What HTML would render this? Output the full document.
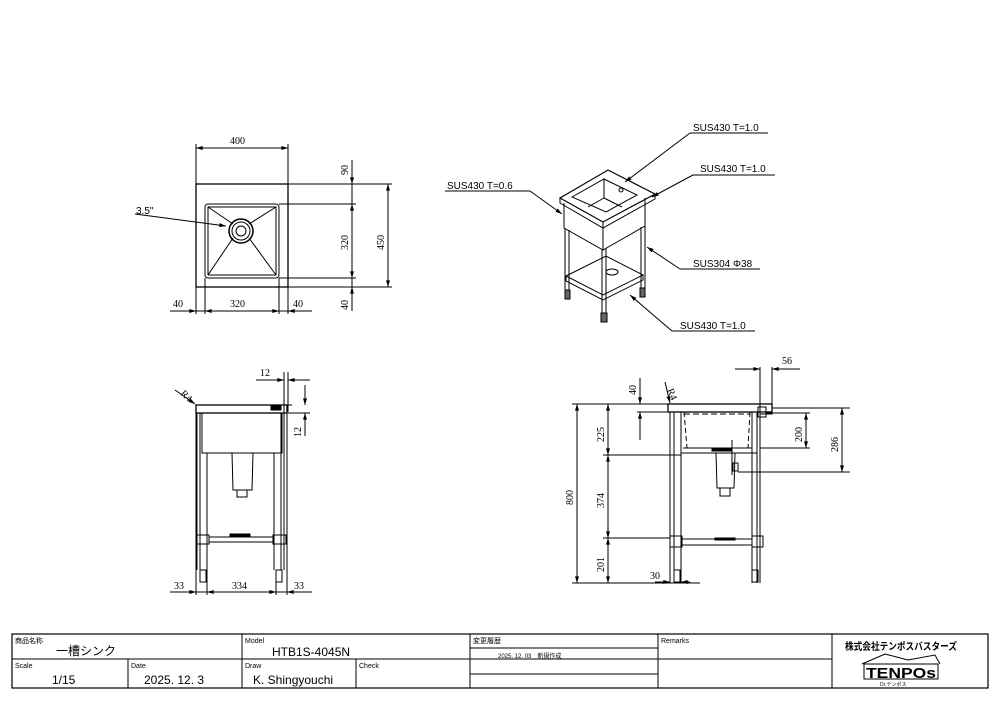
<!DOCTYPE html>
<html><head><meta charset="utf-8"><style>
html,body{margin:0;padding:0;background:#fff;}
svg{display:block;}
text{font-family:"Liberation Serif","Noto Serif CJK SC",serif;fill:#000;}
.s{font-family:"Liberation Sans","Noto Sans CJK JP",sans-serif;}
</style></head><body>
<svg width="1000" height="707" viewBox="0 0 1000 707" xmlns="http://www.w3.org/2000/svg">
<defs>
<marker id="a" viewBox="0 0 10 6" refX="10" refY="3" markerWidth="8" markerHeight="4" orient="auto-start-reverse"><path d="M0,0L10,3L0,6z" fill="#000"/></marker>
</defs>
<g stroke="#000" fill="none" stroke-width="1">
<!-- TOP VIEW -->
<rect x="196" y="184" width="92" height="103" stroke-width="1.3"/>
<rect x="205" y="204" width="74" height="74" rx="3"/>
<rect x="208" y="207" width="68" height="68"/>
<line x1="208" y1="207" x2="233" y2="224"/><line x1="276" y1="207" x2="249" y2="224"/>
<line x1="208" y1="275" x2="233" y2="238"/><line x1="276" y1="275" x2="249" y2="238"/>
<circle cx="241" cy="231" r="12" stroke-width="1.5"/><circle cx="241" cy="231" r="9"/><circle cx="241" cy="231" r="5"/>
<line x1="135" y1="214" x2="226" y2="226" marker-end="url(#a)"/>
<line x1="196" y1="144" x2="196" y2="184"/><line x1="288" y1="144" x2="288" y2="184"/>
<line x1="196" y1="148" x2="288" y2="148" marker-start="url(#a)" marker-end="url(#a)"/>
<line x1="288" y1="184" x2="392" y2="184"/><line x1="288" y1="287" x2="392" y2="287"/>
<line x1="279" y1="204" x2="356" y2="204"/><line x1="279" y1="278" x2="356" y2="278"/>
<line x1="352" y1="160" x2="352" y2="311"/>
<line x1="352" y1="170" x2="352" y2="184" marker-end="url(#a)"/>
<line x1="352" y1="204" x2="352" y2="278" marker-start="url(#a)" marker-end="url(#a)"/>
<line x1="352" y1="290" x2="352" y2="287" marker-end="url(#a)"/>
<line x1="388" y1="184" x2="388" y2="287" marker-start="url(#a)" marker-end="url(#a)"/>
<line x1="196" y1="287" x2="196" y2="314"/><line x1="205" y1="278" x2="205" y2="314"/>
<line x1="279" y1="278" x2="279" y2="314"/><line x1="288" y1="287" x2="288" y2="314"/>
<line x1="170" y1="311" x2="312" y2="311"/>
<line x1="185" y1="311" x2="196" y2="311" marker-end="url(#a)"/>
<line x1="205" y1="311" x2="279" y2="311" marker-start="url(#a)" marker-end="url(#a)"/>
<line x1="300" y1="311" x2="288" y2="311" marker-end="url(#a)"/>

<!-- FRONT VIEW -->
<rect x="196" y="405" width="91" height="8" stroke-width="1.3"/>
<rect x="202" y="413" width="80" height="40"/>
<line x1="197" y1="413" x2="197" y2="570"/><line x1="200" y1="413" x2="200" y2="570"/><line x1="207" y1="453" x2="207" y2="570"/>
<line x1="284" y1="413" x2="284" y2="570"/><line x1="281" y1="413" x2="281" y2="570"/><line x1="274" y1="453" x2="274" y2="570"/>
<polyline points="232,453 233,490 252,490 253,453"/><rect x="237" y="490" width="10" height="7"/>
<rect x="196" y="535" width="13" height="9"/><rect x="273" y="535" width="13" height="9"/>
<line x1="209" y1="537" x2="273" y2="537"/><line x1="209" y1="542" x2="273" y2="542"/>
<rect x="230" y="534" width="20" height="2" fill="#000"/>
<rect x="271" y="406" width="10" height="4" fill="#000"/>
<rect x="200" y="570" width="6" height="12"/><rect x="276" y="570" width="6" height="12"/>
<line x1="175" y1="390" x2="195" y2="404" marker-end="url(#a)"/>
<line x1="284" y1="372" x2="284" y2="413"/><line x1="288" y1="372" x2="288" y2="412"/>
<line x1="256" y1="380" x2="284" y2="380" marker-end="url(#a)"/><line x1="310" y1="380" x2="288" y2="380" marker-end="url(#a)"/>
<line x1="288" y1="413" x2="310" y2="413"/><line x1="287" y1="405" x2="292" y2="405"/>
<line x1="305" y1="385" x2="305" y2="405" marker-end="url(#a)"/><line x1="305" y1="436" x2="305" y2="413" marker-end="url(#a)"/>
<line x1="196" y1="413" x2="196" y2="595"/><line x1="207" y1="570" x2="207" y2="595"/>
<line x1="276" y1="570" x2="276" y2="595"/><line x1="287" y1="413" x2="287" y2="595"/>
<line x1="170" y1="592" x2="312" y2="592"/>
<line x1="185" y1="592" x2="196" y2="592" marker-end="url(#a)"/>
<line x1="207" y1="592" x2="276" y2="592" marker-start="url(#a)" marker-end="url(#a)"/>
<line x1="300" y1="592" x2="287" y2="592" marker-end="url(#a)"/>

<!-- SIDE VIEW -->
<rect x="668" y="404" width="104" height="8" stroke-width="1.3"/>
<rect x="760" y="404" width="12" height="10"/>
<line x1="670" y1="412" x2="670" y2="583"/><line x1="674" y1="412" x2="674" y2="583"/><line x1="681" y1="412" x2="681" y2="583"/>
<line x1="752" y1="412" x2="752" y2="583"/><line x1="757" y1="412" x2="757" y2="583"/><line x1="760" y1="414" x2="760" y2="583"/>
<line x1="684" y1="412" x2="687" y2="448" stroke-dasharray="5,3"/><line x1="750" y1="412" x2="748" y2="448" stroke-dasharray="5,3"/>
<line x1="684" y1="414" x2="750" y2="414" stroke-dasharray="6,3"/>
<line x1="683" y1="448" x2="752" y2="448"/><line x1="681" y1="453" x2="757" y2="453"/>
<rect x="712" y="448" width="20" height="3" fill="#000"/>
<polyline points="716,453 717,488 734,488 735,453"/><rect x="720" y="488" width="10" height="8"/>
<rect x="733" y="463" width="5" height="8"/>
<line x1="732" y1="440" x2="732" y2="475"/>
<rect x="758" y="407" width="8" height="10"/>
<rect x="670" y="536" width="12" height="11"/><rect x="752" y="536" width="11" height="11"/>
<line x1="682" y1="539" x2="752" y2="539"/><line x1="682" y1="545" x2="752" y2="545"/>
<rect x="715" y="538" width="20" height="2" fill="#000"/>
<rect x="674" y="570" width="6" height="12"/><rect x="752" y="570" width="6" height="12"/>
<line x1="665" y1="382" x2="670" y2="403" marker-end="url(#a)"/>
<line x1="572" y1="404" x2="668" y2="404"/><line x1="603" y1="455" x2="681" y2="455"/>
<line x1="603" y1="538" x2="670" y2="538"/><line x1="572" y1="583" x2="700" y2="583"/>
<line x1="577" y1="404" x2="577" y2="583" marker-start="url(#a)" marker-end="url(#a)"/>
<line x1="608" y1="404" x2="608" y2="455" marker-start="url(#a)" marker-end="url(#a)"/>
<line x1="608" y1="455" x2="608" y2="538" marker-start="url(#a)" marker-end="url(#a)"/>
<line x1="608" y1="538" x2="608" y2="583" marker-start="url(#a)" marker-end="url(#a)"/>
<line x1="637" y1="412" x2="668" y2="412"/>
<line x1="640" y1="378" x2="640" y2="404" marker-end="url(#a)"/><line x1="640" y1="440" x2="640" y2="412" marker-end="url(#a)"/>
<line x1="655" y1="582" x2="670" y2="582" marker-end="url(#a)"/><line x1="690" y1="582" x2="681" y2="582" marker-end="url(#a)"/>
<line x1="760" y1="367" x2="760" y2="404"/><line x1="772" y1="367" x2="772" y2="404"/>
<line x1="735" y1="369" x2="760" y2="369" marker-end="url(#a)"/><line x1="800" y1="369" x2="772" y2="369" marker-end="url(#a)"/>
<line x1="766" y1="413" x2="810" y2="413"/><line x1="760" y1="448" x2="810" y2="448"/>
<line x1="772" y1="408" x2="850" y2="408"/><line x1="738" y1="472" x2="850" y2="472"/>
<line x1="806" y1="413" x2="806" y2="448" marker-start="url(#a)" marker-end="url(#a)"/>
<line x1="842" y1="408" x2="842" y2="472" marker-start="url(#a)" marker-end="url(#a)"/>

<!-- ISO VIEW -->
<polygon points="560,198 608,170 655,194 603,222" stroke-width="1.2"/>
<polyline points="560,198 560,203 603,228 655,199 655,194"/>
<line x1="603" y1="222" x2="603" y2="228"/>
<polygon points="572,197 604,179 637,195 606,212"/>
<line x1="604" y1="179" x2="604" y2="198"/><line x1="604" y1="198" x2="588" y2="207"/><line x1="604" y1="198" x2="622" y2="207"/>
<polyline points="564,203 564,228 603,250 603,228"/><polyline points="603,250 645,226 645,198"/>
<line x1="565" y1="228" x2="565" y2="298"/><line x1="569" y1="230" x2="569" y2="298"/>
<line x1="602" y1="250" x2="602" y2="320"/><line x1="606" y1="248" x2="606" y2="320"/>
<line x1="641" y1="227" x2="641" y2="292"/><line x1="645" y1="226" x2="645" y2="292"/>
<polygon points="566,276 606,256 643,275 603,295"/><polyline points="566,276 566,281 603,300 643,280 643,275"/>
<ellipse cx="612" cy="272" rx="6" ry="3"/>
<rect x="565" y="290" width="5" height="9" fill="#666"/><rect x="601" y="313" width="6" height="9" fill="#666"/><rect x="640" y="288" width="5" height="9" fill="#666"/>
<circle cx="621" cy="190" r="2"/>
<line x1="690" y1="133" x2="768" y2="133"/><line x1="690" y1="133" x2="625" y2="182" marker-end="url(#a)"/>
<line x1="693" y1="175" x2="775" y2="175"/><line x1="693" y1="175" x2="652" y2="197" marker-end="url(#a)"/>
<line x1="445" y1="191" x2="530" y2="191"/><line x1="530" y1="191" x2="562" y2="214" marker-end="url(#a)"/>
<line x1="680" y1="269" x2="760" y2="269"/><line x1="680" y1="269" x2="647" y2="247" marker-end="url(#a)"/>
<line x1="672" y1="331" x2="755" y2="331"/><line x1="672" y1="331" x2="630" y2="295" marker-end="url(#a)"/>

<!-- TITLE BLOCK -->
<rect x="12" y="634" width="976" height="54" stroke-width="1.2"/>
<line x1="12" y1="659" x2="832" y2="659"/>
<line x1="128" y1="659" x2="128" y2="688"/><line x1="242" y1="634" x2="242" y2="688"/>
<line x1="356" y1="659" x2="356" y2="688"/><line x1="470" y1="634" x2="470" y2="688"/>
<line x1="658" y1="634" x2="658" y2="688"/><line x1="832" y1="634" x2="832" y2="688"/>
<line x1="470" y1="648" x2="658" y2="648"/><line x1="470" y1="674" x2="658" y2="674"/>
</g>
<g font-size="10">
<text x="230" y="144">400</text>
<text x="136" y="214" class="s">3.5"</text>
<text x="173" y="307">40</text><text x="230" y="307">320</text><text x="293" y="307">40</text>
<text transform="translate(348,175) rotate(-90)">90</text>
<text transform="translate(348,250) rotate(-90)">320</text>
<text transform="translate(348,310) rotate(-90)">40</text>
<text transform="translate(384,250) rotate(-90)">450</text>
<text transform="translate(180,394) rotate(45)">R4</text>
<text x="260" y="376">12</text>
<text transform="translate(301,437) rotate(-90)">12</text>
<text x="174" y="589">33</text><text x="232" y="589">334</text><text x="294" y="589">33</text>
<text transform="translate(667,390) rotate(68)">R4</text>
<text transform="translate(636,395) rotate(-90)">40</text>
<text transform="translate(573,505) rotate(-90)">800</text>
<text transform="translate(604,442) rotate(-90)">225</text>
<text transform="translate(604,508) rotate(-90)">374</text>
<text transform="translate(604,572) rotate(-90)">201</text>
<text x="650" y="579">30</text>
<text x="782" y="364">56</text>
<text transform="translate(802,442) rotate(-90)">200</text>
<text transform="translate(838,452) rotate(-90)">286</text>
</g>
<g font-size="10" class="s">
<text x="693" y="131" class="s">SUS430 T=1.0</text>
<text x="700" y="172" class="s">SUS430 T=1.0</text>
<text x="447" y="189" class="s">SUS430 T=0.6</text>
<text x="693" y="267" class="s">SUS304 Φ38</text>
<text x="680" y="329" class="s">SUS430 T=1.0</text>
</g>
<g class="s">
<text x="15" y="643" font-size="7" class="s">商品名称</text>
<text x="56" y="655" font-size="12" class="s">一槽シンク</text>
<text x="15" y="668" font-size="7" class="s">Scale</text>
<text x="52" y="684" font-size="12" class="s">1/15</text>
<text x="131" y="668" font-size="7" class="s">Date</text>
<text x="144" y="684" font-size="12" class="s">2025. 12. 3</text>
<text x="245" y="643" font-size="7" class="s">Model</text>
<text x="272" y="656" font-size="12" class="s">HTB1S-4045N</text>
<text x="245" y="668" font-size="7" class="s">Draw</text>
<text x="253" y="684" font-size="12" class="s">K. Shingyouchi</text>
<text x="359" y="668" font-size="7" class="s">Check</text>
<text x="473" y="643" font-size="7" class="s">変更履歴</text>
<text x="498" y="658" font-size="6" class="s">2025. 12. 03　新規作成</text>
<text x="661" y="643" font-size="7" class="s">Remarks</text>
<text x="845" y="650" font-size="10" font-weight="bold" class="s" textLength="112" lengthAdjust="spacingAndGlyphs">株式会社テンポスバスターズ</text>
<polyline points="862,664 885,654 908,660 935,655 940,664" fill="none" stroke="#000"/>
<rect x="864" y="664" width="74" height="15" fill="none" stroke="#000"/>
<text x="866" y="678" font-size="15" font-weight="bold" class="s" textLength="70" lengthAdjust="spacingAndGlyphs">TENPOs</text>
<text x="880" y="686" font-size="5" class="s">Dr.テンポス</text>
</g>
</svg>
</body></html>
